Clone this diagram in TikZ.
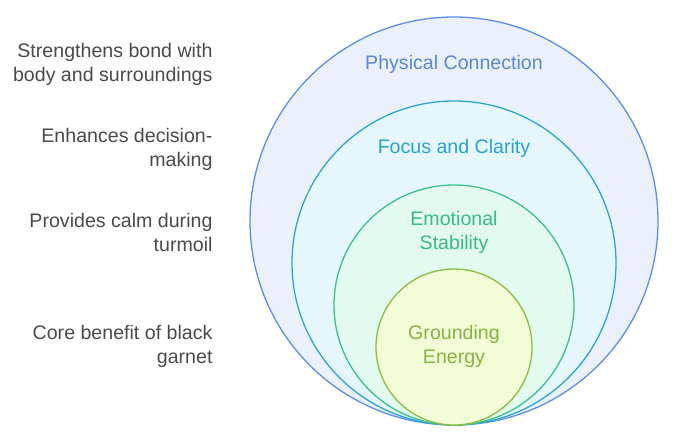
\documentclass[tikz,border=0pt]{standalone}
\usepackage{fontspec}
\setmainfont{Liberation Sans}
\definecolor{physline}{HTML}{5B8DEF}
\definecolor{physfill}{HTML}{EBF1FC}
\definecolor{phystext}{HTML}{5C86D8}
\definecolor{focusline}{HTML}{2BA6D4}
\definecolor{focusfill}{HTML}{E5F7FD}
\definecolor{focustext}{HTML}{2AA3CF}
\definecolor{emoline}{HTML}{3CC08C}
\definecolor{emofill}{HTML}{E2FAF0}
\definecolor{emotext}{HTML}{3BBA86}
\definecolor{groundline}{HTML}{8CBD3E}
\definecolor{groundfill}{HTML}{F2FDD8}
\definecolor{groundtext}{HTML}{86B33F}
\definecolor{notetext}{HTML}{4A4A4A}

\begin{document}
\begin{tikzpicture}[x=1pt,y=-1pt,
		ring/.style={circle, inner sep=0pt, line width=1.3pt},
		ringlabel/.style={align=center, font=\fontsize{19.6}{24}\selectfont},
		note/.style={align=right, anchor=east, text=notetext, font=\fontsize{19.6}{24}\selectfont}]
		\useasboundingbox (0,0) rectangle (675,446);
		% Draw the nested circles, all touching at the bottom
		\node[ring, draw=physline, fill=physfill, minimum size=408pt] (phys) at (454,221) {};
		\node[ring, draw=focusline, fill=focusfill, minimum size=324pt] (focus) at (454,263) {};
		\node[ring, draw=emoline, fill=emofill, minimum size=240pt] (emo) at (454,305) {};
		\node[ring, draw=groundline, fill=groundfill, minimum size=156pt] (ground) at (454,347) {};

		% Circle labels
		\node[ringlabel, text=phystext] (physlabel) at (454,64) {Physical Connection};
		\node[ringlabel, text=focustext] (focuslabel) at (454,148) {Focus and Clarity};
		\node[ringlabel, text=emotext] (emolabel) at (454,232) {Emotional\\Stability};
		\node[ringlabel, text=groundtext] (groundlabel) at (454,346) {Grounding\\Energy};

		% Notes on the left
		\node[note] (physnote) at (216,64) {Strengthens bond with\\body and surroundings};
		\node[note] (focusnote) at (216,149) {Enhances decision-\\making};
		\node[note] (emonote) at (216,232) {Provides calm during\\turmoil};
		\node[note] (groundnote) at (216,346) {Core benefit of black\\garnet};
	\end{tikzpicture}
\end{document}
